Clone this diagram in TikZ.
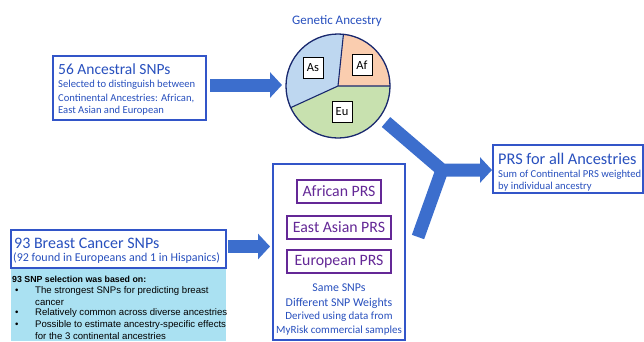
\documentclass[tikz,border=0pt]{standalone}
\usepackage{fontspec}
\setmainfont{Carlito}
\newfontfamily\arialf{Liberation Sans}
\usetikzlibrary{arrows.meta}
\definecolor{txtblue}{RGB}{40,80,190}
\definecolor{boxblue}{RGB}{50,85,200}
\definecolor{arrblue}{RGB}{60,110,205}
\definecolor{prspurple}{RGB}{100,40,150}
\definecolor{pienavy}{RGB}{25,40,110}
\definecolor{asblue}{RGB}{190,215,240}
\definecolor{afpeach}{RGB}{250,205,175}
\definecolor{eugreen}{RGB}{200,225,175}
\definecolor{cyanbg}{RGB}{170,225,242}
\tikzset{
  bluebox/.style={draw=boxblue, line width=1.3pt, fill=white},
  purplebox/.style={draw=prspurple, line width=1.3pt, fill=white, inner sep=0pt, text=prspurple, font=\fontsize{15.8}{18}\selectfont},
  slicebox/.style={draw=black, line width=0.8pt, fill=white, inner sep=0pt, minimum width=20pt, minimum height=21pt, font=\fontsize{12.5}{14}\selectfont},
  line/.style={anchor=west, inner sep=0pt, text=txtblue},
  title/.style={line, font=\fontsize{15.5}{17}\selectfont},
  sub/.style={line, font=\fontsize{10.6}{12}\selectfont},
  mid/.style={anchor=center, inner sep=0pt, text=txtblue, font=\fontsize{11}{13}\selectfont},
  cy/.style={anchor=west, inner sep=0pt, text=black, font=\arialf\fontsize{9.6}{11}\selectfont},
  fat/.style={draw=arrblue, line width=13pt, -{Triangle[length=12pt,width=25pt]}},
  fatplain/.style={draw=arrblue, line width=13pt},
}
\begin{document}
\begin{tikzpicture}[x=1pt,y=-1pt]
\useasboundingbox (0,0) rectangle (644,341);

% Box 1: 56 Ancestral SNPs
\draw[bluebox] (53,56) rectangle (206,120);
\node[title] (t1) at (58,69) {56 Ancestral SNPs};
\node[sub] (s1a) at (58,85) {Selected to distinguish between};
\node[sub] (s1b) at (58,98) {Continental Ancestries: African,};
\node[sub] (s1c) at (58,111) {East Asian and European};
\coordinate (b1e) at (210,85);

% Pie
\node[circle, minimum size=104pt, inner sep=0pt] (pie) at (338,86) {};
\fill[afpeach] (pie.center) -- ++(0:52) arc[start angle=0, end angle=-84, radius=52] -- cycle;
\fill[asblue] (pie.center) -- ++(-84:52) arc[start angle=-84, end angle=-204.6, radius=52] -- cycle;
\fill[eugreen] (pie.center) -- ++(-204.6:52) arc[start angle=-204.6, end angle=-360, radius=52] -- cycle;
\draw[pienavy, line width=1.1pt] (pie.center) -- ++(0:52) (pie.center) -- ++(-84:52) (pie.center) -- ++(-204.6:52);
\draw[pienavy, line width=1.3pt] (pie.center) circle[radius=52];
\node[slicebox] (as) at (313,68) {As};
\node[slicebox] (af) at (362,65) {Af};
\node[slicebox] (eu) at (342,112) {Eu};
\node[anchor=center, inner sep=0pt, text=txtblue, font=\fontsize{13}{15}\selectfont] (gt) at (337,21) {Genetic Ancestry};

% Arrow 1
\coordinate (pw) at (282,85);
\draw[fat] (b1e) -- (pw);

% Box 93
\fill[cyanbg] (11,268) rectangle (226,341);
\draw[bluebox] (11,230) rectangle (226,268);
\node[title, font=\fontsize{16}{18}\selectfont] (t3) at (14,243) {93 Breast Cancer SNPs};
\node[sub, font=\fontsize{12}{14}\selectfont] (s3) at (13,258) {(92 found in Europeans and 1 in Hispanics)};
\node[cy, font=\arialf\bfseries\fontsize{8.8}{10}\selectfont] (c0) at (12,279) {93 SNP selection was based on:};
\node[cy] (d1) at (15,291) {\textbullet};
\node[cy] (c1) at (35,291) {The strongest SNPs for predicting breast};
\node[cy] (c1b) at (35,302.5) {cancer};
\node[cy] (d2) at (15,313.5) {\textbullet};
\node[cy] (c2) at (35,313.5) {Relatively common across diverse ancestries};
\node[cy] (d3) at (15,325) {\textbullet};
\node[cy] (c3) at (35,325) {Possible to estimate ancestry-specific effects};
\node[cy] (c3b) at (35,336) {for the 3 continental ancestries};

% Arrow 3
\coordinate (b3e) at (228,246.5);
\coordinate (mw) at (270,246.5);
\draw[fat] (b3e) -- (mw);

% Middle box
\draw[bluebox] (273,164) rectangle (405,340);
\node[purplebox, minimum width=84pt, minimum height=23pt] (afr) at (339,191.5) {African PRS};
\node[purplebox, minimum width=104pt, minimum height=23pt] (eas) at (339,227.5) {East Asian PRS};
\node[purplebox, minimum width=104pt, minimum height=23pt] (eur) at (339,261.5) {European PRS};
\node[mid, font=\fontsize{11.9}{14}\selectfont] (m1) at (339,288) {Same SNPs};
\node[mid, font=\fontsize{11.9}{14}\selectfont] (m2) at (339,303) {Different SNP Weights};
\node[mid] (m3) at (339,317) {Derived using data from};
\node[mid] (m4) at (339,331) {MyRisk commercial samples};

% Y arrow
\coordinate (ya) at (386,122);
\coordinate (yb) at (418,237);
\coordinate (yj) at (442,170);
\coordinate (yt) at (492,170);
\draw[fatplain] (yb) -- (yj);
\draw[fat, line join=miter] (ya) -- (yj) -- (yt);
\fill[arrblue] (yj) circle[radius=6.5];

% PRS box
\draw[bluebox] (493,145) rectangle (643,193);
\node[title, font=\fontsize{16.3}{18}\selectfont] (t4) at (498,159) {PRS for all Ancestries};
\node[sub] (s4a) at (498,174.5) {Sum of Continental PRS weighted};
\node[sub] (s4b) at (498,187) {by individual ancestry};
\end{tikzpicture}
\end{document}
